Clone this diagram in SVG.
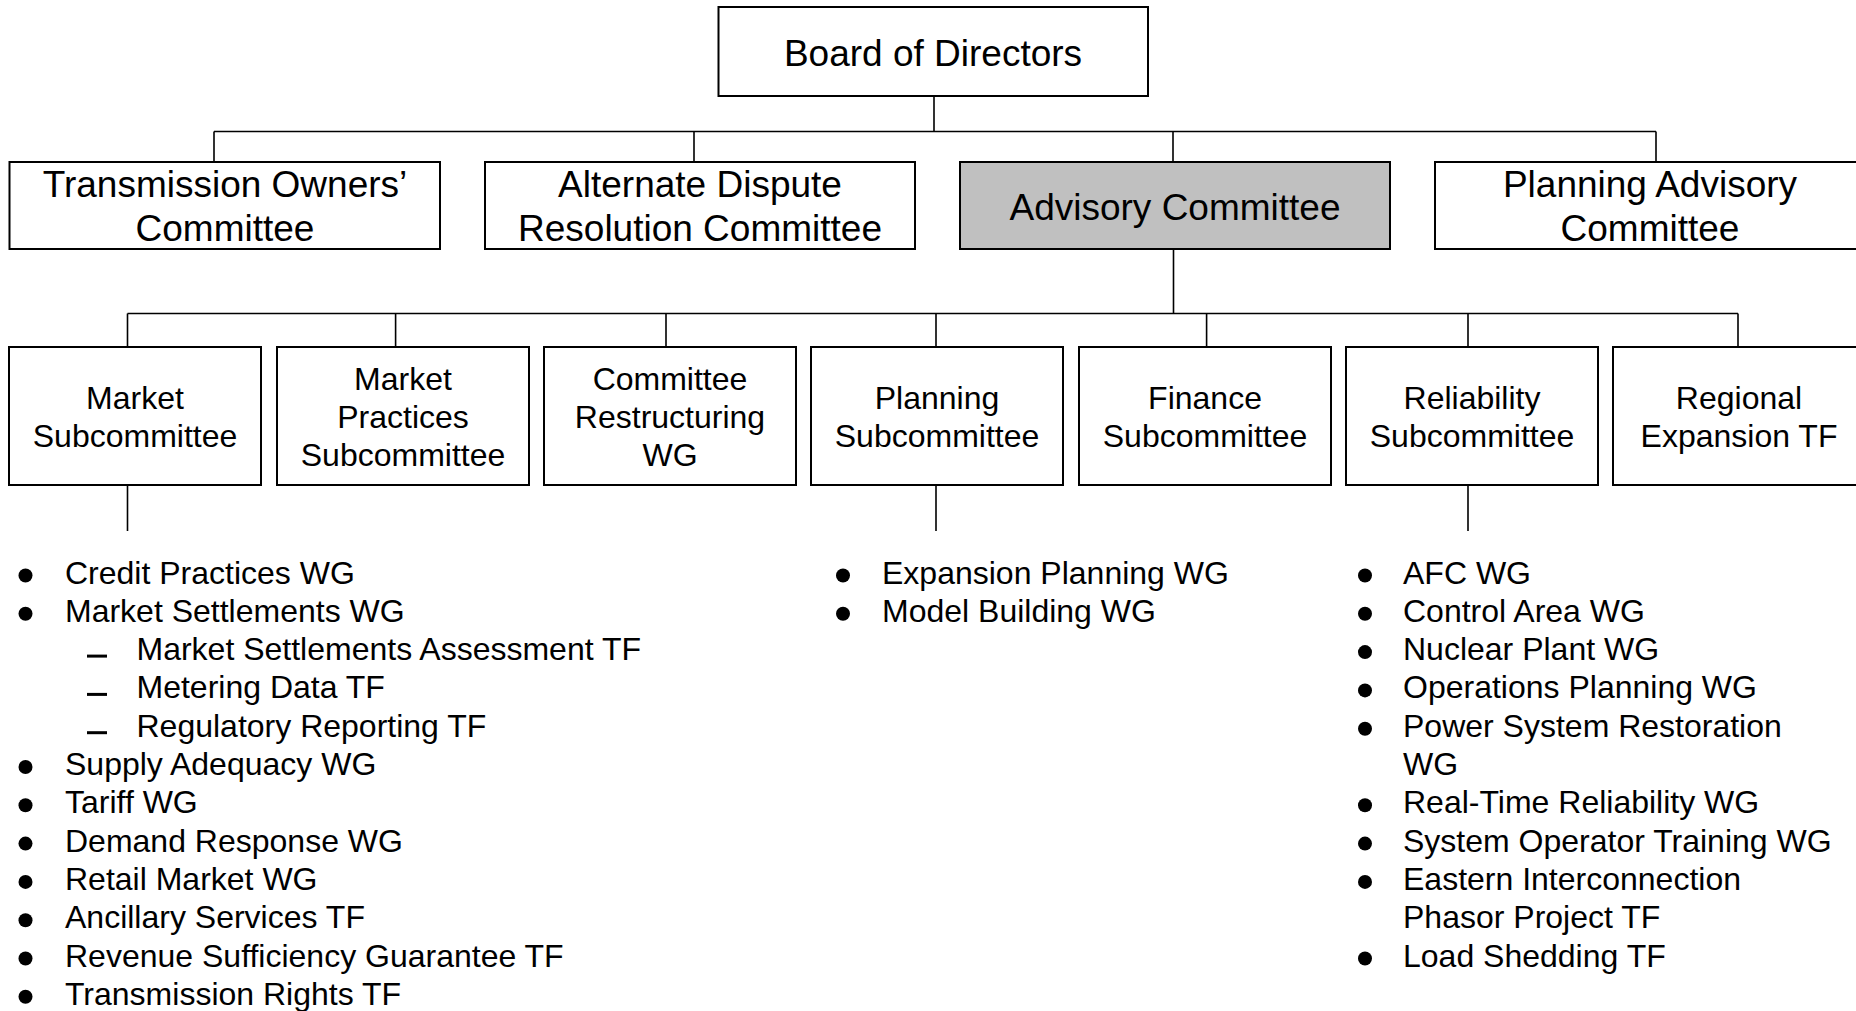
<svg xmlns="http://www.w3.org/2000/svg" width="1856" height="1011" viewBox="0 0 1856 1011">
<style>
.box{fill:#ffffff;stroke:#000000;stroke-width:2}
.gray{fill:#c0c0c0}
.con{fill:none;stroke:#000000;stroke-width:1.6}
.t1{font-family:"Liberation Sans",Arial,sans-serif;font-size:37px;fill:#000000;text-anchor:middle}
.t2{font-family:"Liberation Sans",Arial,sans-serif;font-size:32px;fill:#000000;text-anchor:middle}
.li{font-family:"Liberation Sans",Arial,sans-serif;font-size:32px;fill:#000000}
.bul{fill:#000000}
</style>
<rect width="1856" height="1011" fill="#ffffff"/>
<g id="connectors">
<path class="con" d="M934 96 V131.5 M214 131.5 H1656 M214 131.5 V162 M694 131.5 V162 M1173 131.5 V162 M1656 131.5 V162"/>
<path class="con" d="M1173.5 249 V313.5 M127.5 313.5 H1738 M127.5 313.5 V347 M395.6 313.5 V347 M666 313.5 V347 M936 313.5 V347 M1206.6 313.5 V347 M1468 313.5 V347 M1738 313.5 V347"/>
<path class="con" d="M127.5 485 V531 M936 485 V531 M1468 485 V531"/>
</g>
<g id="board"><rect class="box" x="718.5" y="7" width="429.5" height="89"/><text class="t1" x="933" y="66">Board of Directors</text></g>
<g id="transmission-owners"><rect class="box" x="9.5" y="162" width="430.5" height="87"/><text class="t1" x="225" y="197">Transmission Owners’</text><text class="t1" x="225" y="241">Committee</text></g>
<g id="alternate-dispute"><rect class="box" x="485" y="162" width="430" height="87"/><text class="t1" x="700" y="197">Alternate Dispute</text><text class="t1" x="700" y="241">Resolution Committee</text></g>
<g id="advisory"><rect class="box gray" x="960" y="162" width="430" height="87"/><text class="t1" x="1175" y="220">Advisory Committee</text></g>
<g id="planning-advisory"><rect class="box" x="1435" y="162" width="430" height="87"/><text class="t1" x="1650" y="197">Planning Advisory</text><text class="t1" x="1650" y="241">Committee</text></g>
<g id="market-sub"><rect class="box" x="9" y="347" width="252" height="138"/><text class="t2" x="135" y="409">Market</text><text class="t2" x="135" y="447">Subcommittee</text></g>
<g id="market-practices"><rect class="box" x="277" y="347" width="252" height="138"/><text class="t2" x="403" y="390">Market</text><text class="t2" x="403" y="428">Practices</text><text class="t2" x="403" y="466">Subcommittee</text></g>
<g id="committee-restructuring"><rect class="box" x="544" y="347" width="252" height="138"/><text class="t2" x="670" y="390">Committee</text><text class="t2" x="670" y="428">Restructuring</text><text class="t2" x="670" y="466">WG</text></g>
<g id="planning-sub"><rect class="box" x="811" y="347" width="252" height="138"/><text class="t2" x="937" y="409">Planning</text><text class="t2" x="937" y="447">Subcommittee</text></g>
<g id="finance-sub"><rect class="box" x="1079" y="347" width="252" height="138"/><text class="t2" x="1205" y="409">Finance</text><text class="t2" x="1205" y="447">Subcommittee</text></g>
<g id="reliability-sub"><rect class="box" x="1346" y="347" width="252" height="138"/><text class="t2" x="1472" y="409">Reliability</text><text class="t2" x="1472" y="447">Subcommittee</text></g>
<g id="regional-expansion"><rect class="box" x="1613" y="347" width="252" height="138"/><text class="t2" x="1739" y="409">Regional</text><text class="t2" x="1739" y="447">Expansion TF</text></g>
<g id="market-list">
<circle class="bul" cx="25.5" cy="575.5" r="7"/><text class="li" x="65" y="583.5">Credit Practices WG</text>
<circle class="bul" cx="25.5" cy="613.8" r="7"/><text class="li" x="65" y="621.8">Market Settlements WG</text>
<rect class="bul" x="87" y="654.6" width="20" height="3"/><text class="li" x="136.5" y="660.1">Market Settlements Assessment TF</text>
<rect class="bul" x="87" y="692.9" width="20" height="3"/><text class="li" x="136.5" y="698.4">Metering Data TF</text>
<rect class="bul" x="87" y="731.2" width="20" height="3"/><text class="li" x="136.5" y="736.7">Regulatory Reporting TF</text>
<circle class="bul" cx="25.5" cy="767" r="7"/><text class="li" x="65" y="775">Supply Adequacy WG</text>
<circle class="bul" cx="25.5" cy="805.3" r="7"/><text class="li" x="65" y="813.3">Tariff WG</text>
<circle class="bul" cx="25.5" cy="843.6" r="7"/><text class="li" x="65" y="851.6">Demand Response WG</text>
<circle class="bul" cx="25.5" cy="881.9" r="7"/><text class="li" x="65" y="889.9">Retail Market WG</text>
<circle class="bul" cx="25.5" cy="920.2" r="7"/><text class="li" x="65" y="928.2">Ancillary Services TF</text>
<circle class="bul" cx="25.5" cy="958.5" r="7"/><text class="li" x="65" y="966.5">Revenue Sufficiency Guarantee TF</text>
<circle class="bul" cx="25.5" cy="996.8" r="7"/><text class="li" x="65" y="1004.8">Transmission Rights TF</text>
</g>
<g id="planning-list">
<circle class="bul" cx="843" cy="575.5" r="7"/><text class="li" x="882" y="583.5">Expansion Planning WG</text>
<circle class="bul" cx="843" cy="613.8" r="7"/><text class="li" x="882" y="621.8">Model Building WG</text>
</g>
<g id="reliability-list">
<circle class="bul" cx="1365" cy="575.5" r="7"/><text class="li" x="1403" y="583.5">AFC WG</text>
<circle class="bul" cx="1365" cy="613.8" r="7"/><text class="li" x="1403" y="621.8">Control Area WG</text>
<circle class="bul" cx="1365" cy="652.1" r="7"/><text class="li" x="1403" y="660.1">Nuclear Plant WG</text>
<circle class="bul" cx="1365" cy="690.4" r="7"/><text class="li" x="1403" y="698.4">Operations Planning WG</text>
<circle class="bul" cx="1365" cy="728.7" r="7"/><text class="li" x="1403" y="736.7">Power System Restoration</text>
<text class="li" x="1403" y="775">WG</text>
<circle class="bul" cx="1365" cy="805.3" r="7"/><text class="li" x="1403" y="813.3">Real-Time Reliability WG</text>
<circle class="bul" cx="1365" cy="843.6" r="7"/><text class="li" x="1403" y="851.6">System Operator Training WG</text>
<circle class="bul" cx="1365" cy="881.9" r="7"/><text class="li" x="1403" y="889.9">Eastern Interconnection</text>
<text class="li" x="1403" y="928.2">Phasor Project TF</text>
<circle class="bul" cx="1365" cy="958.5" r="7"/><text class="li" x="1403" y="966.5">Load Shedding TF</text>
</g>
</svg>
